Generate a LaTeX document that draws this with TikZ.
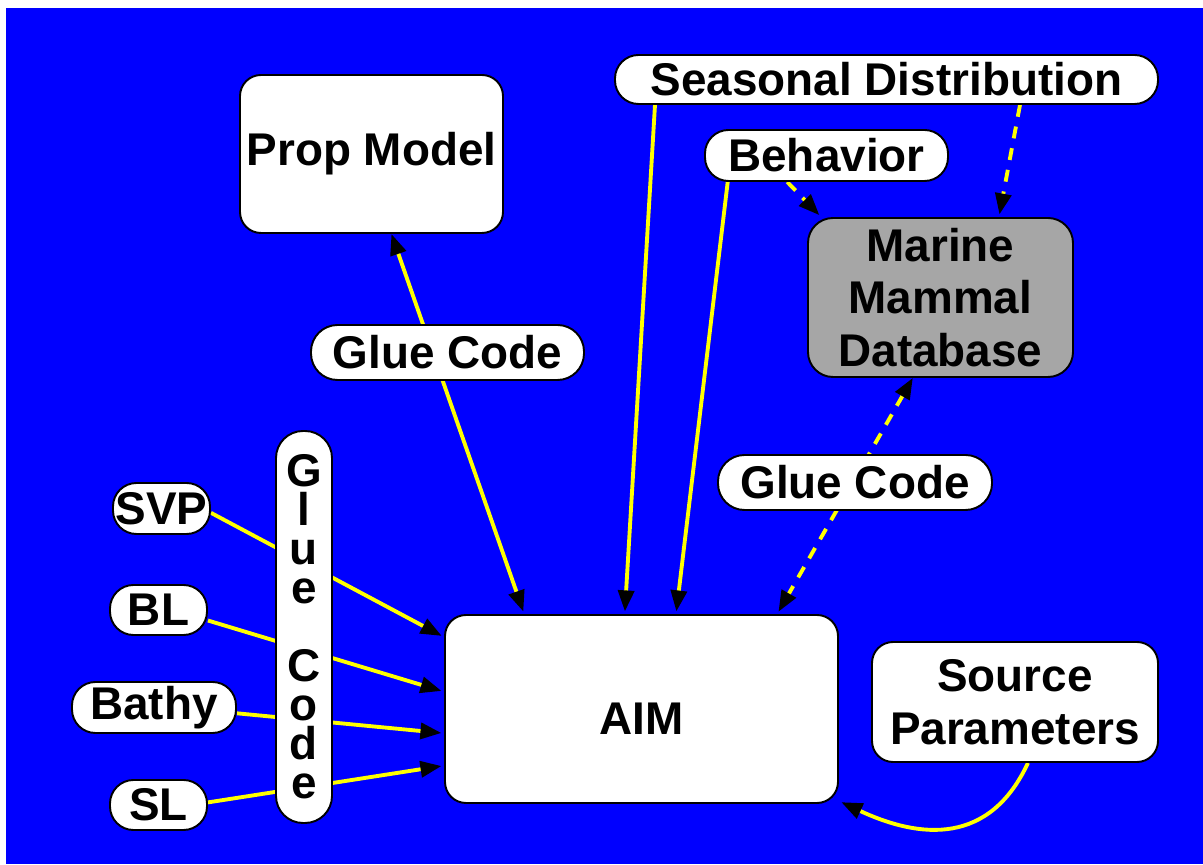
\documentclass[tikz,border=0pt]{standalone}
\usepackage{fontspec}
\setmainfont{Liberation Sans}
\usetikzlibrary{arrows.meta}
\definecolor{slideblue}{RGB}{0,0,255}
\definecolor{dbgray}{RGB}{166,166,166}
\definecolor{wire}{RGB}{255,255,0}
\pgfdeclarelayer{back}
\pgfdeclarelayer{wires}
\pgfsetlayers{back,wires,main}
\tikzset{
    box/.style={draw=black, line width=1.1pt, fill=white, rounded corners=0.42cm,
        inner sep=0pt, align=center, font=\fontsize{26.1}{30}\selectfont\bfseries},
    pill/.style={box, rounded corners=0.47cm},
    link/.style={draw=wire, line width=2.2pt, shorten >=1.5pt, shorten <=0pt},
    dlink/.style={link, dash pattern=on 0.24cm off 0.2cm},
}
\begin{document}
\begin{tikzpicture}[>={Triangle[length=0.42cm,width=0.32cm,color=black]}]
        \useasboundingbox(0, 0) rectangle (24.06, -17.30);
        \begin{pgfonlayer}{back}
            \fill[slideblue](0.12, -0.16) rectangle (24.06, -17.28);
        \end{pgfonlayer}

        %%top row
        \node[box, minimum width=5.26cm, minimum height=3.16cm](prop) at(7.43, -3.08){Prop Model};
        \node[pill, minimum width=10.86cm, minimum height=0.98cm](season) at(17.73, -1.59){Seasonal Distribution};
        \node[pill, minimum width=4.86cm, minimum height=1.02cm](behav) at(16.53, -3.11){Behavior};
        \node[box, fill=dbgray, rounded corners=0.5cm, minimum width=5.30cm, minimum height=3.18cm](mmdb) at(18.81, -5.95){Marine\\Mammal\\Database};

        %%glue
        \node[pill, rounded corners=0.53cm, minimum width=5.46cm, minimum height=1.10cm](glueA) at(8.95, -7.05){Glue Code};
        \node[pill, rounded corners=0.53cm, minimum width=5.48cm, minimum height=1.10cm](glueB) at(17.10, -9.65){Glue Code};
        \node[pill, rounded corners=0.54cm, minimum width=1.12cm, minimum height=7.84cm,
            font=\fontsize{26.1}{22.2}\selectfont\bfseries](glueV) at(6.08, -12.54){G\\l\\u\\e\\[0.78cm]C\\o\\d\\e};

        %%inputs
        \node[pill, minimum width=1.94cm, minimum height=1.02cm](svp) at(3.23, -10.17){SVP};
        \node[pill, minimum width=1.94cm, minimum height=1.00cm](bl) at(3.17, -12.20){BL};
        \node[pill, minimum width=3.28cm, minimum height=1.02cm](bathy) at(3.08, -14.15){Bathy};
        \node[pill, minimum width=1.94cm, minimum height=1.00cm](sl) at(3.17, -16.10){SL};

        %%AIM
        \node[box, text height=28.6pt, text depth=0pt, minimum width=7.86cm, minimum height=3.76cm](aim) at(12.83, -14.18){AIM};
        \node[box, minimum width=5.72cm, minimum height=2.40cm](srcp) at(20.30, -14.04){Source\\Parameters};

        \begin{pgfonlayer}{wires}
            \draw[link, <->](prop.-76) to (aim.141);
            \draw[link, ->]([xshift=-4.63cm]season.south) to (aim.100);
            \draw[link, ->](behav.-165) to (aim.70);
                \draw[dlink, ->](behav.-146) to (mmdb.146);
                \draw[dlink, ->]([xshift=2.67cm]season.south) to (mmdb.54);
                \draw[dlink, <->](mmdb.-109) to (aim.35);
            \draw[link, ->](svp.-5) to (aim.160);
            \draw[link, ->](bl.-12) to (aim.175);
            \draw[link, ->](bathy.-4) to (aim.-173);
            \draw[link, ->](sl.3) to (aim.-164);
            \draw[link, ->](srcp.-78) to[out=-115, in=-25, looseness=1.2] (aim.-25);
        \end{pgfonlayer}
\end{tikzpicture}
\end{document}
